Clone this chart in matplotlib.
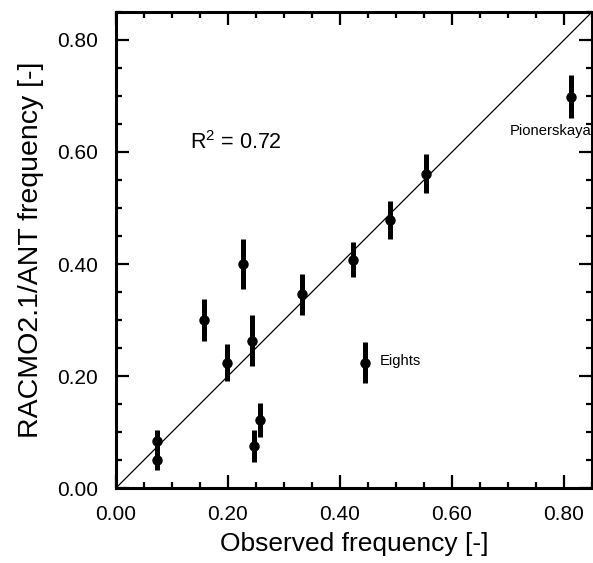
import matplotlib
matplotlib.use("Agg")
import matplotlib.pyplot as plt
from matplotlib.ticker import MultipleLocator, FormatStrFormatter

plt.rcParams["font.family"] = ["Liberation Sans", "DejaVu Sans"]
plt.rcParams["mathtext.default"] = "regular"

observed = [0.073, 0.073, 0.158, 0.198, 0.227, 0.243, 0.246, 0.257,
            0.333, 0.424, 0.490, 0.554, 0.445, 0.8125]
modelled = [0.084, 0.050, 0.300, 0.224, 0.400, 0.263, 0.075, 0.121,
            0.346, 0.408, 0.479, 0.561, 0.224, 0.699]
spread = [0.020, 0.018, 0.038, 0.033, 0.045, 0.046, 0.028, 0.030,
          0.037, 0.032, 0.034, 0.035, 0.037, 0.039]
station_names = {"Eights": (0.471, 0.227), "Pionerskaya": (0.704, 0.637)}
r_squared = 0.72

figure = plt.figure(figsize=(5.93, 5.63), dpi=100)
axis = figure.add_axes([0.1956, 0.1332, 0.8027, 0.8455])

axis.plot([0, 0.85], [0, 0.85], color="black", linewidth=0.9)
axis.errorbar(observed, modelled, yerr=spread, fmt="o", color="black",
              markersize=6.5, elinewidth=3.6, capsize=0)

for name, (x, y) in station_names.items():
    axis.text(x, y, name, fontsize=10.6, va="center", ha="left")
axis.text(0.133, 0.616, f"R$^2$ = {r_squared:.2f}", fontsize=15.5, va="center")

axis.set_xlim(0, 0.85)
axis.set_ylim(0, 0.85)
for sub in (axis.xaxis, axis.yaxis):
    sub.set_major_locator(MultipleLocator(0.2))
    sub.set_minor_locator(MultipleLocator(0.05))
    sub.set_major_formatter(FormatStrFormatter("%.2f"))
axis.tick_params(which="both", direction="in", top=True, right=True, width=1.6)
axis.tick_params(which="major", length=9.5, labelsize=15)
axis.tick_params(axis="x", which="major", pad=12)
axis.tick_params(axis="y", which="major", pad=13)
axis.tick_params(which="minor", length=4.5)
for spine in axis.spines.values():
    spine.set_linewidth(2.2)

axis.set_xlabel("Observed frequency [-]", fontsize=19, labelpad=6)
axis.set_ylabel("RACMO2.1/ANT frequency [-]", fontsize=20.5, labelpad=9)

figure.savefig("out.png", dpi=100)
